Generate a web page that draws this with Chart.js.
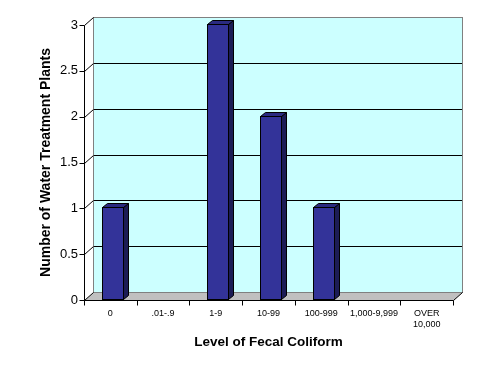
<!DOCTYPE html>
<html>
<head>
<meta charset="utf-8">
<script src="https://cdn.jsdelivr.net/npm/chart.js@4.4.0/dist/chart.umd.min.js"></script>
<style>
  html, body { margin: 0; padding: 0; background: #fff; }
</style>
</head>
<body>
<canvas id="chart" width="491" height="374"></canvas>
<script>
const categories = ['0', '.01-.9', '1-9', '10-99', '100-999', '1,000-9,999', ['OVER', '10,000']];
const plantCounts = [1, 0, 3, 2, 1, 0, 0];
const yTicks = [0, 0.5, 1, 1.5, 2, 2.5, 3];

const FONT = '"Liberation Sans", Arial, sans-serif';

// depth of the back wall and of the bars (fake excel 3d)
const WALL_DX = 9, WALL_DY = -8;
const BAR_DX = 5, BAR_DY = -4, BAR_SHIFT = 2;

const line = (ctx, x1, y1, x2, y2) => {
    ctx.beginPath();
    ctx.moveTo(x1, y1);
    ctx.lineTo(x2, y2);
    ctx.stroke();
};

const excel3d = {
    id: 'excel3d',
    beforeDatasetsDraw(chart) {
        const { ctx, chartArea: a, scales: { y } } = chart;
        const L = Math.round(a.left) + 0.5, R = Math.round(a.right) + 0.5;
        const T = Math.round(a.top) + 0.5, B = Math.round(a.bottom) + 0.5;
        ctx.save();
        ctx.lineWidth = 1;

        // back wall
        ctx.fillStyle = '#ccffff';
        ctx.fillRect(L + WALL_DX, T + WALL_DY, R - L, B - T);

        // floor
        ctx.fillStyle = '#c0c0c0';
        ctx.beginPath();
        ctx.moveTo(L, B);
        ctx.lineTo(R, B);
        ctx.lineTo(R + WALL_DX, B + WALL_DY);
        ctx.lineTo(L + WALL_DX, B + WALL_DY);
        ctx.closePath();
        ctx.fill();

        // gridlines on the wall
        ctx.strokeStyle = '#000';
        yTicks.forEach(v => {
            if (v <= 0 || v >= 3) return;
            const py = Math.round(y.getPixelForValue(v)) + 0.5 + WALL_DY;
            line(ctx, L + WALL_DX, py, R + WALL_DX, py);
        });

        // wall border
        ctx.strokeStyle = '#808080';
        ctx.strokeRect(L + WALL_DX, T + WALL_DY, R - L, B - T);
        ctx.restore();
    },
    afterDatasetsDraw(chart) {
        const { ctx, chartArea: a, scales: { y } } = chart;
        const meta = chart.getDatasetMeta(0);
        ctx.save();
        ctx.lineWidth = 1;
        ctx.strokeStyle = '#000';

        meta.data.forEach((bar, i) => {
            if (!plantCounts[i]) return;
            const { width } = bar.getProps(['width'], true);
            const x0 = Math.round(bar.x - width / 2) + 0.5 + BAR_SHIFT;
            const x1 = Math.round(bar.x + width / 2) + 0.5 + BAR_SHIFT;
            const top = Math.round(bar.y) + 0.5 - 1;
            const base = Math.round(bar.base) + 0.5 - 1;

            // side
            ctx.fillStyle = '#1c1c55';
            ctx.beginPath();
            ctx.moveTo(x1, top);
            ctx.lineTo(x1 + BAR_DX, top + BAR_DY);
            ctx.lineTo(x1 + BAR_DX, base + BAR_DY);
            ctx.lineTo(x1, base);
            ctx.closePath();
            ctx.fill();
            ctx.stroke();

            // top
            ctx.fillStyle = '#2a2a80';
            ctx.beginPath();
            ctx.moveTo(x0, top);
            ctx.lineTo(x0 + BAR_DX, top + BAR_DY);
            ctx.lineTo(x1 + BAR_DX, top + BAR_DY);
            ctx.lineTo(x1, top);
            ctx.closePath();
            ctx.fill();
            ctx.stroke();

            // front
            ctx.fillStyle = '#333399';
            ctx.fillRect(x0, top, x1 - x0, base - top);
            ctx.strokeRect(x0, top, x1 - x0, base - top);
        });

        // axes
        const L = Math.round(a.left) + 0.5, R = Math.round(a.right) + 0.5;
        const T = Math.round(a.top) + 0.5, B = Math.round(a.bottom) + 0.5;
        line(ctx, L, T, L, B);
        line(ctx, L, B, R, B);
        line(ctx, R, B, R + WALL_DX, B + WALL_DY);
        yTicks.forEach(v => {
            const py = Math.round(y.getPixelForValue(v)) + 0.5;
            line(ctx, L - 5, py, L, py);
            line(ctx, L, py, L + WALL_DX, py + WALL_DY);
        });
        const step = (a.right - a.left) / categories.length;
        for (let i = 0; i <= categories.length; i++) {
            const px = Math.round(a.left + i * step) + 0.5;
            line(ctx, px, B, px, B + 5);
        }
        ctx.restore();
    }
};

new Chart(document.getElementById('chart'), {
    type: 'bar',
    data: {
        labels: categories,
        datasets: [{
            data: plantCounts,
            backgroundColor: 'rgba(0,0,0,0)',
            borderWidth: 0,
            barPercentage: 0.4,
            categoryPercentage: 1
        }]
    },
    plugins: [excel3d],
    options: {
        responsive: false,
        animation: false,
        layout: { padding: { left: 38, right: 38, top: 25, bottom: 24 } },
        plugins: {
            legend: { display: false },
            tooltip: { enabled: false }
        },
        scales: {
            x: {
                grid: { display: false, drawTicks: false },
                border: { display: false },
                ticks: {
                    color: '#000',
                    font: { family: FONT, size: 9 },
                    padding: 8,
                    maxRotation: 0,
                    autoSkip: false
                },
                title: {
                    display: true,
                    text: 'Level of Fecal Coliform',
                    color: '#000',
                    font: { family: FONT, size: 13.5, weight: 'bold' },
                    padding: 0
                },
                afterFit: s => { s.height = 50; }
            },
            y: {
                min: 0,
                max: 3,
                grid: { display: false, drawTicks: false },
                border: { display: false },
                ticks: {
                    stepSize: 0.5,
                    color: '#000',
                    font: { family: FONT, size: 13 },
                    padding: 6,
                    callback: v => String(v)
                },
                title: {
                    display: true,
                    text: 'Number of Water Treatment Plants',
                    color: '#000',
                    font: { family: FONT, size: 14, weight: 'bold' },
                    padding: 0
                },
                afterFit: s => { s.width = 46; }
            }
        }
    }
});
</script>
</body>
</html>
